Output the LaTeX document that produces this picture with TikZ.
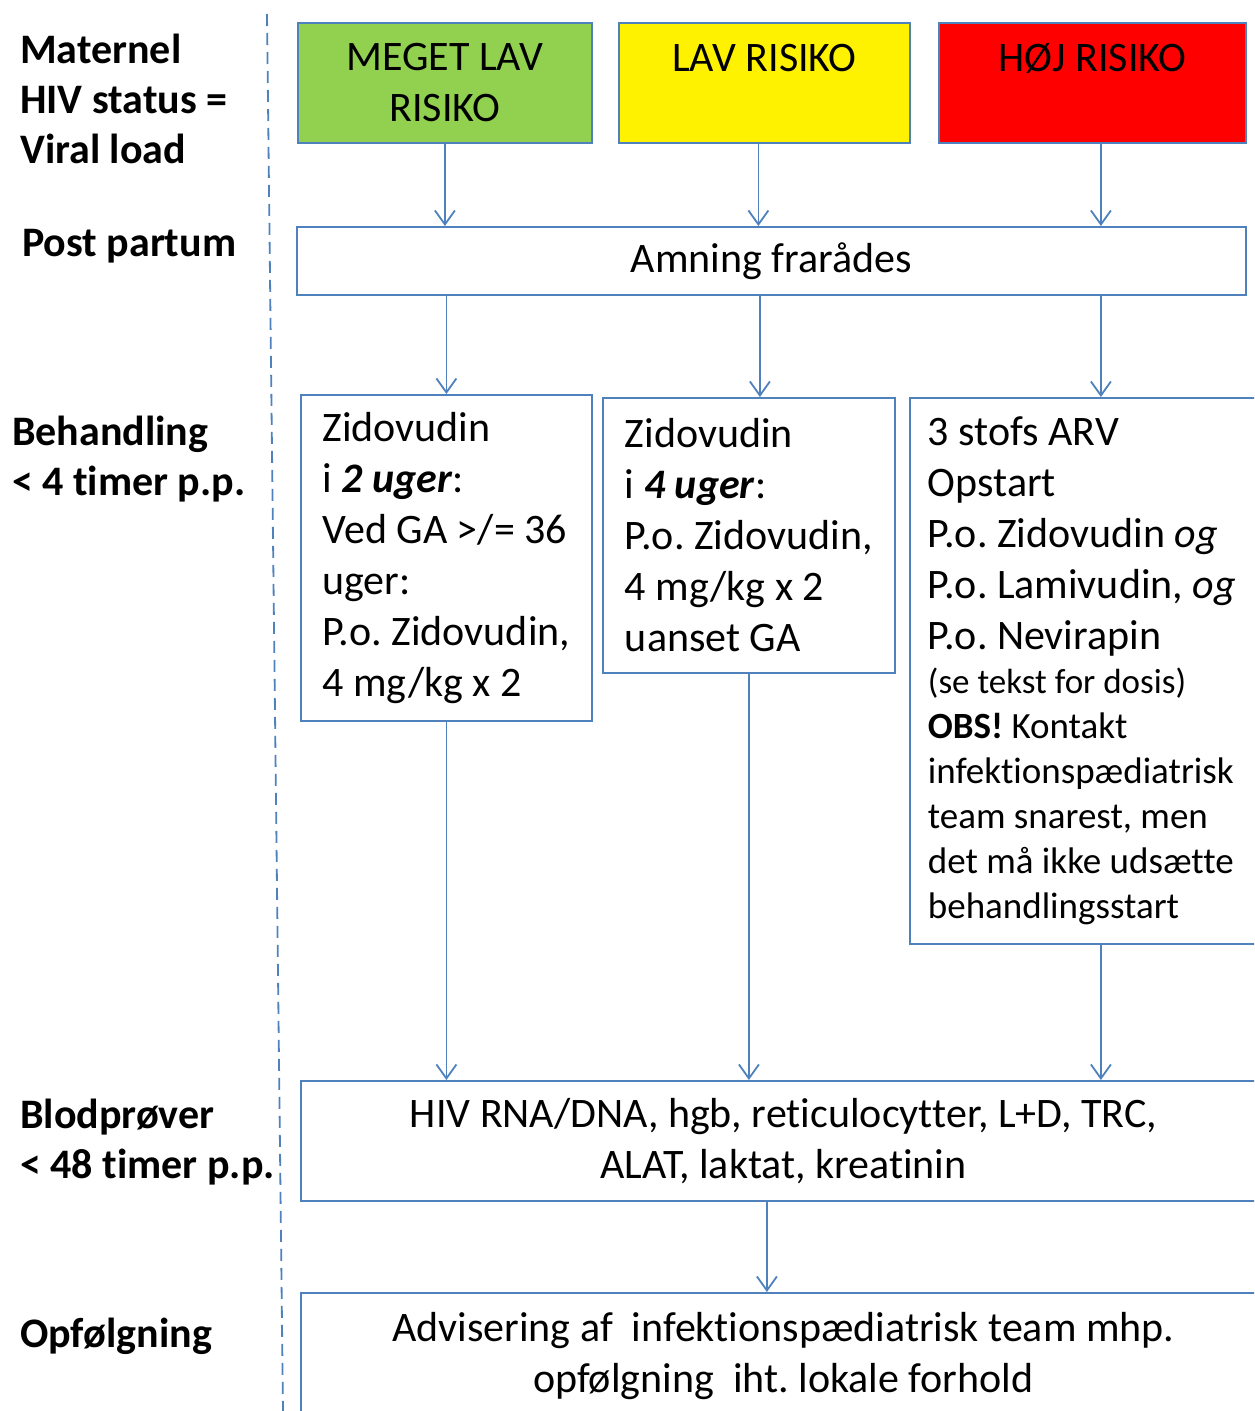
\documentclass[tikz,border=0pt]{standalone}
\usepackage{fontspec}
\setmainfont{Carlito}[Ligatures=NoCommon, RawFeature={-clig}]
\usetikzlibrary{arrows.meta}
\frenchspacing

\definecolor{linie}{HTML}{4F81BD}
\definecolor{groen}{HTML}{92D050}

\tikzset{
  boks/.style={draw=linie, line width=1.8pt, rectangle, anchor=north west,
    inner sep=0pt, font=\fontsize{42}{51}\selectfont},
  midt/.style={boks, align=center},
  venstre/.style={boks, align=left},
  pil/.style={draw=linie, line width=1.8pt, -{Straight Barb[length=14pt,width=20pt]}},
  etiket/.style={anchor=base west, align=left, inner sep=0pt, font=\bfseries\fontsize{42}{50}\selectfont},
}

\begin{document}
\begin{tikzpicture}[x=1pt, y=-1pt]
  \useasboundingbox (0,0) rectangle (1254,1411);
  \clip (0,0) rectangle (1254,1411);

  % venstre kolonne (base = sidste linje)
  \node[etiket] (lmat) at (20,163) {Maternel\\HIV status =\\Viral load};
  \node[etiket] (lpost) at (22,256) {Post partum};
  \node[etiket] (lbeh) at (12,495) {Behandling\\< 4 timer p.p.};
  \node[etiket] (lblod) at (20,1178) {Blodprøver\\< 48 timer p.p.};
  \node[etiket] (lopf) at (20,1347) {Opfølgning};

  \draw[linie, line width=1.8pt, dash pattern=on 12pt off 7pt] (267,14) -- (283,1411);

  % risiko
  \node[midt, fill=groen, minimum width=294, minimum height=120] (meget) at (297,22) {MEGET LAV\\RISIKO};
  \node[midt, fill=yellow, minimum width=291, minimum height=120] (lav) at (618,22) {LAV RISIKO\\\mbox{}};
  \node[midt, fill=red, minimum width=307, minimum height=120] (hoj) at (938,22) {HØJ RISIKO\\\mbox{}};

  \node[midt, minimum width=949, minimum height=68] (amning) at (296,226) {Amning frarådes};

  % behandling
  \node[venstre, minimum width=291, minimum height=326] (zid2) at (300,394)
    {Zidovudin\\ i \textbf{\textit{2 uger}}:\\ Ved GA >/= 36\\ uger:\\ P.o. Zidovudin,\\ 4 mg/kg x 2};
  \node[venstre, minimum width=292, minimum height=275] (zid4) at (602,397)
    {Zidovudin\\ i \textbf{\textit{4 uger}}:\\ P.o. Zidovudin,\\ 4 mg/kg x 2\\ uanset GA};
  \node[boks, align=flush left, inner xsep=18pt, text width=346pt, minimum height=546] (arv) at (909,397)
    {3 stofs ARV\\ Opstart\\ P.o. Zidovudin \textit{og}\\ P.o. Lamivudin, \textit{og}\\ P.o. Nevirapin\par
     {\fontsize{35}{44}\selectfont (se tekst for dosis)\par}
     {\fontsize{37}{45}\selectfont \textbf{OBS!} Kontakt\\ infektionspædiatrisk\\ team snarest, men\\
      det må ikke udsætte\\ behandlingsstart\par}};

  \node[midt, minimum width=965, minimum height=120] (blod) at (300,1080)
    {HIV RNA/DNA, hgb, reticulocytter, L+D, TRC,\\ALAT, laktat, kreatinin};
  \node[midt, minimum width=965, minimum height=127] (adv) at (300,1292)
    {Advisering af\ \ infektionspædiatrisk team mhp.\\opfølgning\ \ iht. lokale forhold};

  % pile
  \coordinate (p1) at ([xshift=-6pt]lav.south);
  \coordinate (p2) at ([xshift=8.5pt]hoj.south);
  \coordinate (p3) at ([xshift=11pt]zid4.north);
  \coordinate (p4) at ([xshift=-16.5pt]blod.south);

  \draw[pil] (meget.south) -- (meget.south |- amning.north);
  \draw[pil] (p1) -- (p1 |- amning.north);
  \draw[pil] (p2) -- (p2 |- amning.north);

  \draw[pil] (amning.south -| zid2.north) -- (zid2.north);
  \draw[pil] (amning.south -| p3) -- (p3);
  \draw[pil] (amning.south -| arv.north) -- (arv.north);

  \draw[pil] (zid2.south) -- (zid2.south |- blod.north);
  \draw[pil] (zid4.south) -- (zid4.south |- blod.north);
  \draw[pil] (arv.south) -- (arv.south |- blod.north);

  \draw[pil] (p4) -- (p4 |- adv.north);
\end{tikzpicture}
\end{document}
